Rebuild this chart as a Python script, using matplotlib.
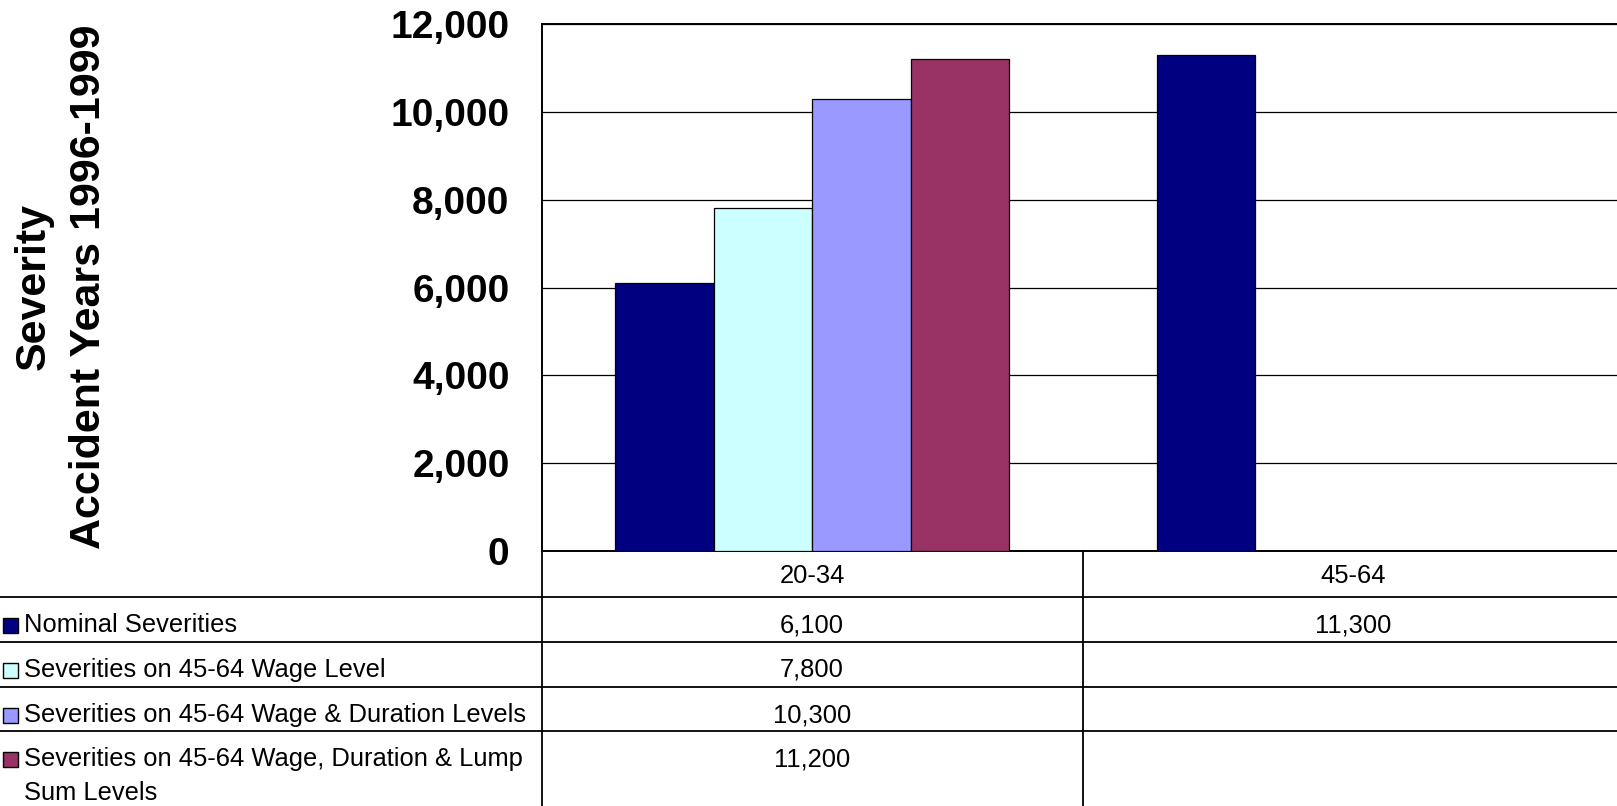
import numpy as np
import matplotlib
matplotlib.use("Agg")
import matplotlib.pyplot as plt
from matplotlib.lines import Line2D
from matplotlib.patches import Rectangle
from matplotlib.transforms import blended_transform_factory

categories = ["20-34", "45-64"]
series_names = [
    "Nominal Severities",
    "Severities on 45-64 Wage Level",
    "Severities on 45-64 Wage & Duration Levels",
    "Severities on 45-64 Wage, Duration & Lump\nSum Levels",
]
nominal = [6100, 11300]
wage_level = [7800, None]
wage_duration = [10300, None]
wage_duration_lump = [11200, None]
series_values = [nominal, wage_level, wage_duration, wage_duration_lump]
colors = ["#000080", "#CCFFFF", "#9999FF", "#993366"]
yticks = [0, 2000, 4000, 6000, 8000, 10000, 12000]

W, H = 1617, 806
plt.rcParams["font.family"] = ["Liberation Sans", "DejaVu Sans"]
fig = plt.figure(figsize=(W / 100, H / 100), dpi=100)


def fx(px):
    return px / W


def fy(py):
    return 1 - py / H


# plot area (runs a bit past the right edge of the page)
left, right, top, bottom = 541.5, 1624, 24, 551
ax = fig.add_axes([fx(left), fy(bottom), fx(right - left), (bottom - top) / H])

n = len(series_values)
width = 1 / (n + 1.5)
x = np.arange(len(categories))
for i, vals in enumerate(series_values):
    h = np.array([np.nan if v is None else v for v in vals], dtype=float)
    ax.bar(x + (i - (n - 1) / 2) * width, h, width, color=colors[i],
           edgecolor="black", linewidth=0.9, zorder=3)

ax.set_xlim(-0.5, len(categories) - 0.5)
ax.set_ylim(0, 12000)
ax.set_yticks(yticks)
ax.set_yticklabels([f"{t:,}" for t in yticks], fontsize=28, fontweight="bold")
ax.set_xticks([])
ax.tick_params(axis="y", length=0, pad=23)
ax.grid(axis="y", color="black", linewidth=0.9, zorder=0)
for s in ax.spines.values():
    s.set_color("black")
    s.set_linewidth(1.4)

fig.text(fx(61.5), fy(287), "Severity\nAccident Years 1996-1999", rotation=90,
         ha="center", va="center", multialignment="center",
         fontsize=31, fontweight="bold", linespacing=1.49)

# data table under the chart
row_lines = [597, 642, 687, 731]
line_kw = dict(color="black", linewidth=1.3, transform=fig.transFigure)
for ry in row_lines:
    fig.add_artist(Line2D([0, 1], [fy(ry), fy(ry)], **line_kw))
fig.add_artist(Line2D([fx(left), fx(left)], [fy(bottom), 0], **line_kw))
mid = ax.transData.transform((0.5, 0))[0]
fig.add_artist(Line2D([mid / W, mid / W], [fy(bottom), 0], **line_kw))

trans = blended_transform_factory(ax.transData, fig.transFigure)
for j, cat in enumerate(categories):
    ax.text(x[j], fy(576), cat, transform=trans, ha="center", va="center",
            fontsize=18.4, clip_on=False)

row_tops = [597] + row_lines[1:]
for i, (name, vals) in enumerate(zip(series_names, series_values)):
    ty = row_tops[i] + 28
    fig.add_artist(Rectangle((fx(2.5), fy(ty + 8)), 15 / W, 15 / H,
                             facecolor=colors[i], edgecolor="black",
                             linewidth=1.0, transform=fig.transFigure))
    for k, line in enumerate(name.split("\n")):
        fig.text(fx(24), fy(ty + k * 34), line, ha="left", va="center",
                 fontsize=18.4)
    for j, v in enumerate(vals):
        if v is not None:
            ax.text(x[j], fy(ty), f"{v:,}", transform=trans, ha="center",
                    va="center", fontsize=18.4, clip_on=False)

fig.savefig("out.png", dpi=100)
